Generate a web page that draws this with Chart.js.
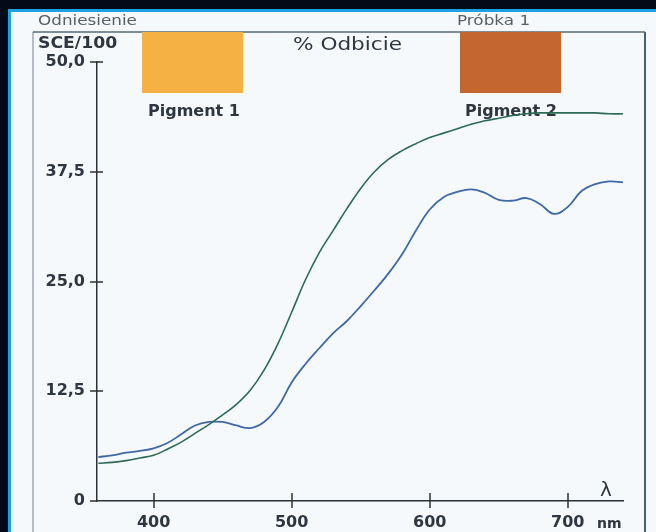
<!DOCTYPE html>
<html>
<head>
<meta charset="utf-8">
<title>% Odbicie</title>
<script src="https://cdn.jsdelivr.net/npm/chart.js@4"></script>
<style>
  body { margin: 0; background: #030a18; }
  canvas { display: block; }
</style>
</head>
<body>
<canvas id="chart" width="656" height="532"></canvas>
<script>
// Spectral data (nm / % reflectance)
var wavelengths = [360, 370, 380, 390, 400, 410, 420, 430, 440, 450,
                   460, 470, 480, 490, 500, 510, 520, 530, 540, 550,
                   560, 570, 580, 590, 600, 610, 620, 630, 640, 650,
                   660, 670, 680, 690, 700, 710, 720, 730, 740];

// green curve (Odniesienie)
var reference = [4.3, 4.4, 4.6, 4.9, 5.2, 5.9, 6.7, 7.7, 8.7, 9.8,
                 11.0, 12.6, 14.9, 17.9, 21.5, 25.2, 28.3, 30.8, 33.3, 35.6,
                 37.5, 38.9, 39.9, 40.7, 41.4, 41.9, 42.4, 42.9, 43.3, 43.6,
                 43.9, 44.1, 44.2, 44.2, 44.2, 44.2, 44.2, 44.1, 44.1];

// blue curve (Próbka 1)
var sample = [5.0, 5.2, 5.5, 5.7, 6.0, 6.6, 7.6, 8.6, 9.0, 9.0,
              8.6, 8.3, 9.0, 10.7, 13.5, 15.6, 17.4, 19.1, 20.5, 22.2,
              24.0, 25.9, 28.1, 30.8, 33.2, 34.6, 35.2, 35.5, 35.1, 34.3,
              34.2, 34.5, 33.8, 32.7, 33.5, 35.3, 36.1, 36.4, 36.3];

var xTicks = [400, 500, 600, 700];
var yTicks = [0, 12.5, 25, 37.5, 50];

var labelColor = '#2e3641';
var axisColor = '#2b3138';

function toPoints(values) {
    return wavelengths.map(function (nm, i) {
        return { x: nm, y: values[i] };
    });
}

// the scanned print is a bit wider than tall, so stretch loose text sideways
function wideText(ctx, text, x, y, stretch) {
    ctx.save();
    ctx.translate(x, y);
    ctx.scale(stretch, 1);
    ctx.fillText(text, 0, 0);
    ctx.restore();
}

// paper, frame, swatches and loose labels
var paperPlugin = {
    id: 'paper',
    beforeDraw: function (chart) {
        var ctx = chart.ctx;
        ctx.save();
        ctx.fillStyle = '#030a18';
        ctx.fillRect(0, 0, 656, 532);
        ctx.fillStyle = '#1da1e2';
        ctx.fillRect(8, 9, 648, 523);
        ctx.fillStyle = '#f6f9fc';
        ctx.fillRect(11, 12, 645, 520);

        // inner frame
        ctx.lineWidth = 1.5;
        ctx.strokeStyle = '#9ea9b4';
        ctx.beginPath();
        ctx.moveTo(33, 32);
        ctx.lineTo(33, 532);
        ctx.stroke();
        ctx.strokeStyle = '#56687a';
        ctx.beginPath();
        ctx.moveTo(33, 32);
        ctx.lineTo(645, 32);
        ctx.stroke();
        ctx.lineWidth = 2;
        ctx.strokeStyle = '#4a5e71';
        ctx.beginPath();
        ctx.moveTo(645, 32);
        ctx.lineTo(645, 532);
        ctx.stroke();

        // colour swatches
        ctx.fillStyle = '#f6b144';
        ctx.fillRect(142, 32, 101, 61);
        ctx.fillStyle = '#c3662f';
        ctx.fillRect(460, 32, 101, 61);

        ctx.textBaseline = 'alphabetic';
        ctx.textAlign = 'left';
        ctx.fillStyle = '#5a5f66';
        ctx.font = '14px "DejaVu Sans"';
        wideText(ctx, 'Odniesienie', 38, 25, 1.2);
        wideText(ctx, 'Próbka 1', 457, 25, 1.2);

        ctx.fillStyle = labelColor;
        ctx.font = 'bold 15px "DejaVu Sans"';
        wideText(ctx, 'SCE/100', 38, 48, 1.15);
        ctx.font = 'bold 16px "DejaVu Sans"';
        ctx.fillText('Pigment 1', 148, 116);
        ctx.fillText('Pigment 2', 465, 116);

        ctx.font = '18px "DejaVu Sans"';
        wideText(ctx, '% Odbicie', 293, 50, 1.2);

        ctx.font = 'bold 14px "DejaVu Sans"';
        ctx.fillText('nm', 597, 528);
        ctx.font = '20px "DejaVu Sans"';
        ctx.fillText('\u03bb', 600, 496);
        ctx.restore();
    },
    afterDraw: function (chart) {
        // tick marks crossing the axes
        var ctx = chart.ctx;
        var area = chart.chartArea;
        var xs = chart.scales.x;
        var ys = chart.scales.y;
        ctx.save();
        ctx.strokeStyle = axisColor;
        ctx.lineWidth = 1.5;
        xTicks.forEach(function (v) {
            var px = Math.round(xs.getPixelForValue(v));
            ctx.beginPath();
            ctx.moveTo(px, area.bottom - 8);
            ctx.lineTo(px, area.bottom + 7);
            ctx.stroke();
        });
        yTicks.forEach(function (v) {
            var py = Math.round(ys.getPixelForValue(v));
            ctx.beginPath();
            ctx.moveTo(area.left - 7, py);
            ctx.lineTo(area.left + (v === 0 ? 0 : 6), py);
            ctx.stroke();
        });
        ctx.restore();
    }
};

var ctx = document.getElementById('chart').getContext('2d');
var myChart = new Chart(ctx, {
    type: 'line',
    data: {
        datasets: [{
            label: 'Odniesienie',
            data: toPoints(reference),
            borderColor: '#2d6b55',
            borderWidth: 1.6,
            pointRadius: 0,
            tension: 0.4,
            fill: false
        }, {
            label: 'Próbka 1',
            data: toPoints(sample),
            borderColor: '#3e68a8',
            borderWidth: 1.8,
            pointRadius: 0,
            tension: 0.4,
            fill: false
        }]
    },
    options: {
        responsive: false,
        animation: false,
        devicePixelRatio: 1,
        layout: {
            padding: { left: 0, top: 62, right: 33, bottom: 0 }
        },
        plugins: {
            legend: { display: false },
            tooltip: { enabled: false }
        },
        scales: {
            x: {
                type: 'linear',
                min: 359,
                max: 740,
                afterBuildTicks: function (axis) {
                    axis.ticks = xTicks.map(function (v) { return { value: v }; });
                },
                afterFit: function (axis) {
                    axis.height = 31;
                },
                grid: { display: false, drawTicks: false },
                border: { display: true, color: axisColor, width: 1.5 },
                ticks: {
                    padding: 12,
                    color: labelColor,
                    font: { family: 'DejaVu Sans', size: 16, weight: 'bold' },
                    maxRotation: 0
                }
            },
            y: {
                min: 0,
                max: 50,
                afterBuildTicks: function (axis) {
                    axis.ticks = yTicks.map(function (v) { return { value: v }; });
                },
                afterFit: function (axis) {
                    axis.width = 97;
                },
                grid: { display: false, drawTicks: false },
                border: { display: true, color: axisColor, width: 1.5 },
                ticks: {
                    padding: 12,
                    color: labelColor,
                    font: { family: 'DejaVu Sans', size: 16, weight: 'bold' },
                    callback: function (value) {
                        return value === 0 ? '0' : value.toFixed(1).replace('.', ',');
                    }
                }
            }
        }
    },
    plugins: [paperPlugin]
});
</script>
</body>
</html>
